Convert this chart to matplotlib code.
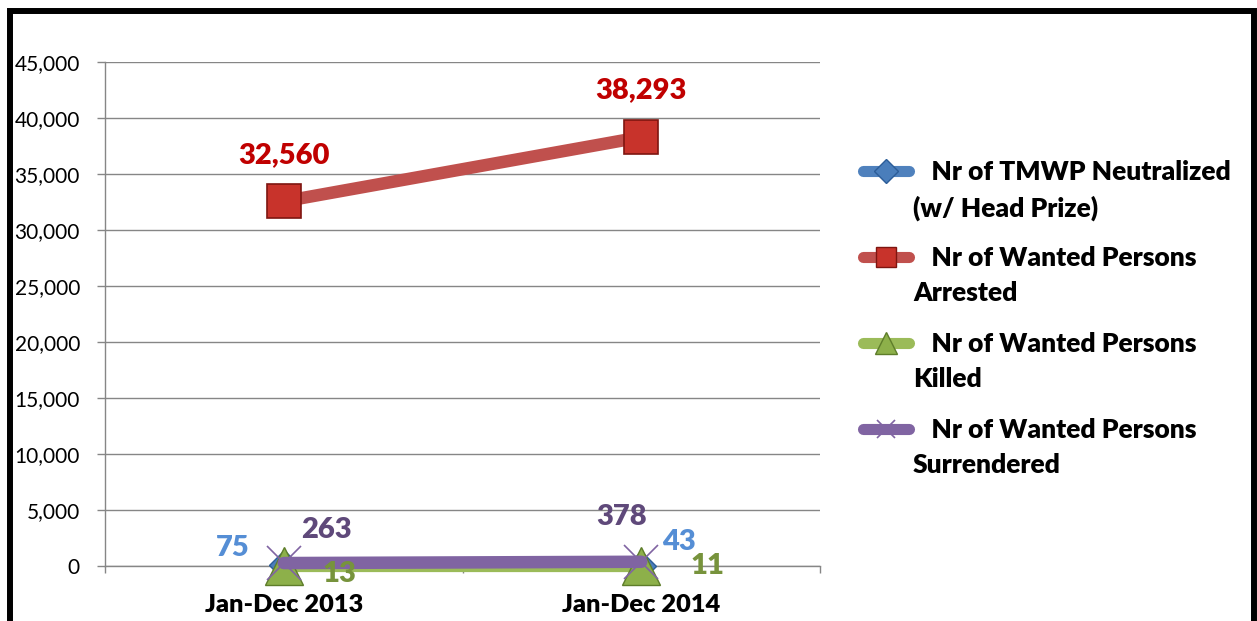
import matplotlib
matplotlib.use("Agg")
import matplotlib.pyplot as plt
from matplotlib.lines import Line2D
from matplotlib.patches import Rectangle
from matplotlib.ticker import FuncFormatter

plt.rcParams['font.family'] = ['Lato', 'DejaVu Sans']

categories = ["Jan-Dec 2013", "Jan-Dec 2014"]
neutralized = [75, 43]
arrested = [32560, 38293]
killed = [13, 11]
surrendered = [263, 378]
series_names = ["   Nr of TMWP Neutralized\n(w/ Head Prize)",
                "   Nr of Wanted Persons\nArrested",
                "   Nr of Wanted Persons\nKilled",
                "   Nr of Wanted Persons\nSurrendered"]
y_ticks = list(range(0, 45001, 5000))

W, H = 1257, 621
fig = plt.figure(figsize=(W / 100, H / 100), dpi=100)
ax = fig.add_axes([105 / W, 1 - 566 / H, (820 - 105) / W, (566 - 62) / H])

x = [0.5, 1.5]
blue, red, green, purple = "#4F81BD", "#C0504D", "#9BBB59", "#8064A2"

ax.plot(x, neutralized, color=blue, lw=9, solid_capstyle='round', marker='D',
        markersize=15, markerfacecolor="#4A7EBB", markeredgecolor="#2C5D98",
        zorder=3, clip_on=False)
ax.plot(x, arrested, color=red, lw=9, solid_capstyle='round', marker='s',
        markersize=24.5, markerfacecolor="#C8332B", markeredgecolor="#7E1510",
        markeredgewidth=1.2, zorder=4, clip_on=False)
ax.plot(x, killed, color=green, lw=9, solid_capstyle='round', marker='^',
        markersize=27, markerfacecolor="#8DB04A", markeredgecolor="#5E7D2A",
        markeredgewidth=1.0, zorder=5, clip_on=False)
ax.plot(x, surrendered, color=purple, lw=9, solid_capstyle='round', marker='x',
        markersize=24, markeredgecolor=purple, markeredgewidth=1.2, zorder=6,
        clip_on=False)

lab_kw = dict(textcoords='offset points', ha='center', va='center',
              fontsize=21, fontweight='heavy', zorder=10)
ann = [
    (arrested, [(0, 33), (0, 34)], "#C00000"),
    (neutralized, [(-37, 12), (27, 17)], "#558ED5"),
    (surrendered, [(31, 24), (-14, 32)], "#5F497A"),
    (killed, [(40, -6), (48, 0)], "#77933C"),
]
for vals, offs, col in ann:
    for xi, v, off in zip(x, vals, offs):
        ax.annotate(f"{v:,}", (xi, v), xytext=off, color=col, **lab_kw)

ax.set_xlim(0, 2)
ax.set_ylim(0, 45000)
ax.set_yticks(y_ticks)
ax.yaxis.set_major_formatter(FuncFormatter(lambda v, p: f"{int(v):,}"))
ax.set_xticks([0, 1, 2])
ax.set_xticklabels([])
ax.set_xticks(x, minor=True)
ax.set_xticklabels(categories, minor=True, fontsize=18.3, fontweight='heavy')
ax.tick_params(axis='x', which='minor', length=0, pad=20)
ax.tick_params(axis='x', which='major', length=5, color="#868686", width=1)
ax.tick_params(axis='y', length=6, color="#868686", width=1, labelsize=15, pad=12)
ax.grid(axis='y', color="#868686", lw=1)
ax.set_axisbelow(True)
for s in ['top', 'right']:
    ax.spines[s].set_visible(False)
for s in ['left', 'bottom']:
    ax.spines[s].set_color("#868686")
    ax.spines[s].set_linewidth(1)

# legend drawn manually
lax = fig.add_axes([0, 0, 1, 1], zorder=-1)
lax.set_xlim(0, W)
lax.set_ylim(H, 0)
lax.axis('off')
styles = [
    (blue, dict(marker='D', markersize=12.5, markerfacecolor="#4A7EBB", markeredgecolor="#2C5D98")),
    (red, dict(marker='s', markersize=15, markerfacecolor="#C8332B", markeredgecolor="#7E1510")),
    (green, dict(marker='^', markersize=16, markerfacecolor="#8DB04A", markeredgecolor="#5E7D2A")),
    (purple, dict(marker='x', markersize=13, markeredgecolor=purple, markeredgewidth=1.2)),
]
for i, (name, (col, mk)) in enumerate(zip(series_names, styles)):
    yy = 171 + i * 86
    if mk['marker'] == 'x':
        lax.add_line(Line2D([886], [yy], color=col, lw=0, **mk))
        lax.add_line(Line2D([863, 909], [yy, yy], color=col, lw=8, solid_capstyle='round'))
    else:
        lax.add_line(Line2D([863, 909], [yy, yy], color=col, lw=8, solid_capstyle='round'))
        lax.add_line(Line2D([886], [yy], color=col, lw=0, **mk))
    lax.text(913, yy - 11, name, fontsize=19, fontweight='heavy', va='top', ha='left',
             linespacing=1.55)

fig.add_artist(Rectangle((10 / W, -0.1), (1254 - 10) / W, 1 - 11 / H + 0.1,
                         transform=fig.transFigure, fill=False, lw=4.3,
                         edgecolor='black'))

fig.savefig("out.png", dpi=100)
